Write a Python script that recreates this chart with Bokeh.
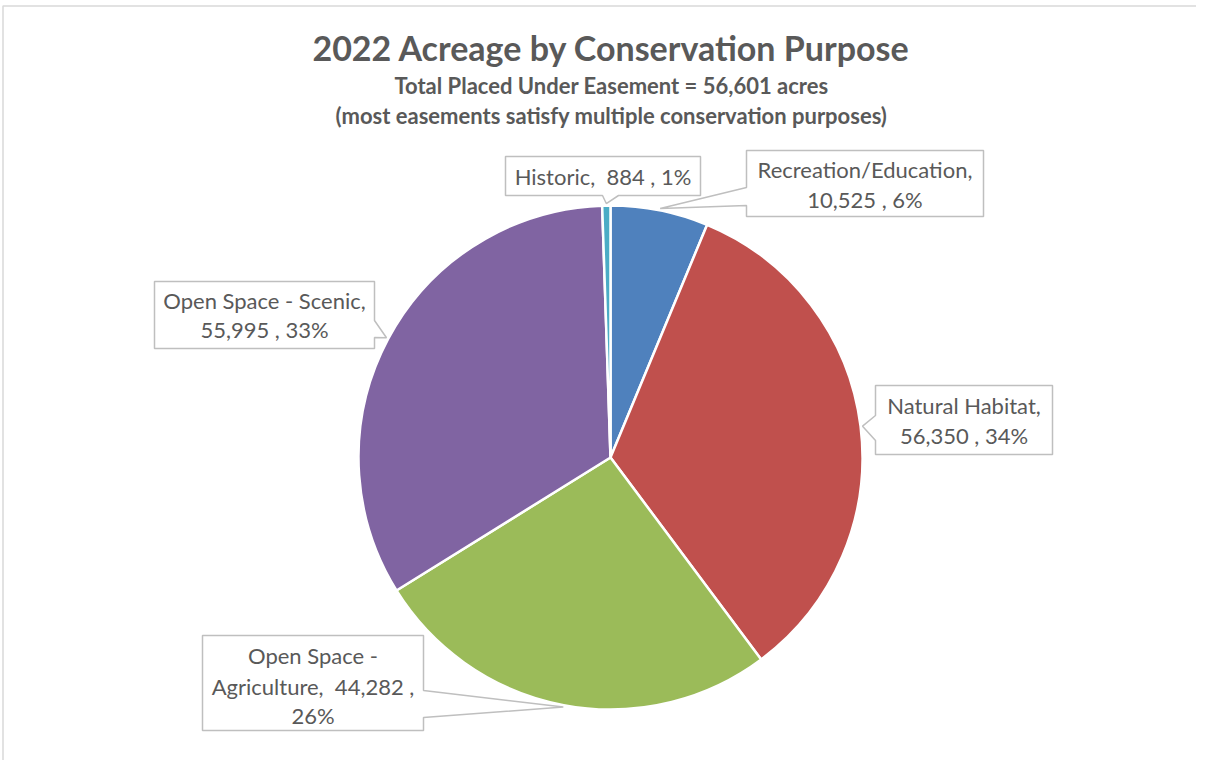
import math
from bokeh.plotting import figure
from bokeh.models import Range1d
from bokeh.embed import file_html
from bokeh.resources import INLINE
from bokeh.core.properties import value

# ---------------- data ----------------
categories = ["Recreation/Education", "Natural Habitat", "Open Space - Agriculture",
              "Open Space - Scenic", "Historic"]
acres = [10525, 56350, 44282, 55995, 884]
colors = ["#4F81BD", "#C0504D", "#9BBB59", "#8064A2", "#4BACC6"]
title = "2022 Acreage by Conservation Purpose"
subtitle1 = "Total Placed Under Easement = 56,601 acres"
subtitle2 = "(most easements satisfy multiple conservation purposes)"

# ---------------- layout (screen px) ----------------
W, H = 1196, 760
CX, CY, R = 610, 457, 252
FONT = "Lato"
TXT = "#595959"
SP2 = "\u00a0 "  # double space that survives SVG whitespace collapsing
# callout boxes: (left, top, right, bottom), pointer side, pointer base (s0, s1), line centers
boxes = [
    ((746, 150, 983, 216), "left", (187, 205), [169, 199]),
    ((875, 385, 1052, 454), "left", (415, 440), [405, 435]),
    ((202, 635, 423, 730), "right", (690, 717), [655, 686, 715]),
    ((154, 281, 374, 348), "right", (320, 337), [300, 329]),
    ((505, 156, 700, 195), "bottom", (602, 618), [176]),
]

p = figure(width=W, height=H, x_range=Range1d(0, W), y_range=Range1d(-H, 0),
           output_backend="svg", toolbar_location=None, min_border=0)
p.axis.visible = False
p.grid.visible = False
p.outline_line_color = None
p.background_fill_color = "white"
p.border_fill_color = "white"

# chart border (top & left edges visible in reference)
p.line([2.5, 2.5, W], [-H, -5.5, -5.5], line_color="#D9D9D9", line_width=1.5)

total = sum(acres)
pcts = [round(100 * v / total) for v in acres]
starts, ends = [], []
a = 90.0
for v in acres:
    span = 360.0 * v / total
    starts.append(a - span)
    ends.append(a)
    a -= span

p.wedge(x=CX, y=-CY, radius=R,
        start_angle=[math.radians(s) for s in starts],
        end_angle=[math.radians(e) for e in ends],
        direction="anticlock", fill_color=colors, line_color="white", line_width=2.5)

# labels
def label_lines(name, v, pct, nlines):
    if nlines == 1:
        return [f"{name},{SP2}{v:,} , {pct}%"]
    if nlines == 2:
        return [f"{name},", f"{v:,} , {pct}%"]
    first, second = name.split(" - ")
    return [f"{first} -", f"{second},{SP2}{v:,} ,", f"{pct}%"]

xs, ys = [], []
tx, ty, tt = [], [], []
for i, (box, side, base, lines_y) in enumerate(boxes):
    l, t, r, b = box
    mid = math.radians((starts[i] + ends[i]) / 2)
    tipx = CX + (R + 2) * math.cos(mid)
    tipy = CY - (R + 2) * math.sin(mid)
    s0, s1 = base
    pts = [(l, t), (r, t)]
    if side == "right":
        pts += [(r, s0), (tipx, tipy), (r, s1)]
    pts += [(r, b)]
    if side == "bottom":
        pts += [(s1, b), (tipx, tipy), (s0, b)]
    pts += [(l, b)]
    if side == "left":
        pts += [(l, s1), (tipx, tipy), (l, s0)]
    xs.append([q[0] for q in pts])
    ys.append([-q[1] for q in pts])
    lines = label_lines(categories[i], acres[i], pcts[i], len(lines_y))
    for ln, yy in zip(lines, lines_y):
        tx.append((l + r) / 2)
        ty.append(-yy)
        tt.append(ln)

p.patches(xs, ys, fill_color="white", line_color="#BFBFBF", line_width=1.5)
p.text(x=tx, y=ty, text=tt, text_align="center", text_baseline="middle",
       text_font=value(FONT), text_font_size="22px", text_color=TXT)

# titles
p.text(x=[611], y=[-47], text=[title], text_align="center", text_baseline="middle",
       text_font=value(FONT), text_font_style="bold", text_font_size="34px", text_color=TXT)
p.text(x=[611, 611], y=[-85, -115], text=[subtitle1, subtitle2], text_align="center",
       text_baseline="middle", text_font=value(FONT), text_font_style="bold",
       text_font_size="22px", text_color=TXT)

open("out.html", "w").write(file_html(p, INLINE))
